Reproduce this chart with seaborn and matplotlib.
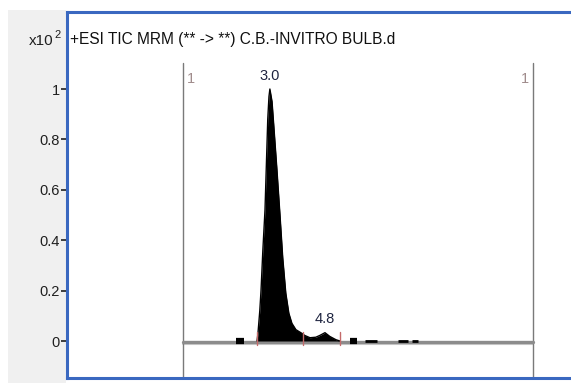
import numpy as np
import pandas as pd
import matplotlib
matplotlib.use("Agg")
import matplotlib.pyplot as plt
from matplotlib.patches import Rectangle
import seaborn as sns

# chromatogram trace (retention time in min, intensity in x10^2 counts)
rt = [0.16, 2.58, 2.61, 2.67, 2.71, 2.77, 2.84, 2.93, 2.97, 3.00, 3.07, 3.13, 3.23, 3.33,
      3.42, 3.52, 3.62, 3.72, 3.85, 4.05, 4.14, 4.31, 4.50, 4.63, 4.80, 4.96, 5.16, 5.29, 11.59]
intensity = [0.0, 0.0, 0.03, 0.12, 0.20, 0.36, 0.52, 0.88, 0.97, 1.00, 0.95, 0.85, 0.68, 0.50,
             0.33, 0.19, 0.11, 0.07, 0.045, 0.03, 0.022, 0.013, 0.015, 0.022, 0.033, 0.018, 0.005, 0.0, 0.0]

# peak labels
peak_rt = [3.0, 4.8]
peak_height = [1.0, 0.033]
peak_text = ["3.0", "4.8"]

# integration marks and little noise blobs on the baseline
marks = [2.58, 4.08, 5.29]
noise_start = [1.89, 5.61, 6.10, 7.18, 7.64]
noise_end = [2.15, 5.84, 6.50, 7.50, 7.84]
noise_width = [4.5, 4.5, 2.0, 2.0, 2.0]

# segment borders
seg_rt = [0.16, 11.59]

sns.set_style("white")
plt.rcParams["font.family"] = ["Liberation Sans Narrow", "Liberation Sans", "DejaVu Sans"]

fig = plt.figure(figsize=(5.71, 3.83), dpi=100)
fig.patch.set_facecolor("white")
fig.patches.append(Rectangle((8 / 571, 0), (66 - 8) / 571, 1 - 10 / 383,
                             transform=fig.transFigure, facecolor="#f0f0f0",
                             edgecolor="none", zorder=-1))

ax = fig.add_axes([67 / 571, 1 - 378 / 383, (571 - 67) / 571, (378 - 12) / 383])
ax.set_facecolor("white")

df = pd.DataFrame({"rt": rt, "intensity": intensity})

# grey baseline
ax.plot(seg_rt, [-0.002, -0.002], color="#8c8c8c", lw=2.4, zorder=2)
ax.plot(seg_rt, [-0.010, -0.010], color="#d0d0d0", lw=1.5, zorder=1)

ax.fill_between(df["rt"], 0, df["intensity"], where=(df["rt"] >= 2.5) & (df["rt"] <= 5.3),
                color="black", lw=0, zorder=3)
sns.lineplot(data=df[(df["rt"] > 2.5) & (df["rt"] < 5.35)], x="rt", y="intensity",
             sort=False, color="black", lw=1, ax=ax, zorder=4)

for s, e, w in zip(noise_start, noise_end, noise_width):
    ax.plot([s, e], [0.002, 0.002], color="black", lw=w, solid_capstyle="butt", zorder=4)

for m in marks:
    ax.plot([m, m], [-0.015, 0.035], color="#c46a6a", lw=1, zorder=5)

for s in seg_rt:
    ax.axvline(s, ymin=0, ymax=0.86, color="#7a7a7a", lw=1, zorder=1)
ax.text(seg_rt[0] + 0.12, 1.04, "1", color="#a08c8c", fontsize=10.5, ha="left", va="center")
ax.text(seg_rt[1] - 0.12, 1.04, "1", color="#a08c8c", fontsize=10.5, ha="right", va="center")

for x, h, t in zip(peak_rt, peak_height, peak_text):
    ax.text(x, h + 0.025, t, color="#1e2440", fontsize=10.5, ha="center", va="bottom")

ax.set_xlim(-3.63, 12.84)
ax.set_ylim(-0.1468, 1.3056)
ax.set_xticks([])
ax.set_yticks([0, 0.2, 0.4, 0.6, 0.8, 1.0])
ax.set_yticklabels(["0", "0.2", "0.4", "0.6", "0.8", "1"])
ax.tick_params(axis="y", direction="out", length=4, width=1.2, color="#202020",
               labelsize=10.5, labelcolor="#202020", pad=1, left=True, labelleft=True)
ax.set_xlabel("")
ax.set_ylabel("")

for side in ["left", "top", "bottom"]:
    ax.spines[side].set_color("#3a68c0")
    ax.spines[side].set_linewidth(2.2)
ax.spines["right"].set_visible(False)

ax.text(0.005, 0.925, "+ESI TIC MRM (** -> **) C.B.-INVITRO BULB.d", transform=ax.transAxes,
        fontsize=11.2, color="#101010", ha="left", va="center")
fig.text(29 / 571, 1 - 41 / 383, "x10", fontsize=11, color="#202020", ha="left", va="center")
fig.text(54 / 571, 1 - 35 / 383, "2", fontsize=8, color="#202020", ha="left", va="center")

fig.savefig("out.png", dpi=100, facecolor=fig.get_facecolor())
